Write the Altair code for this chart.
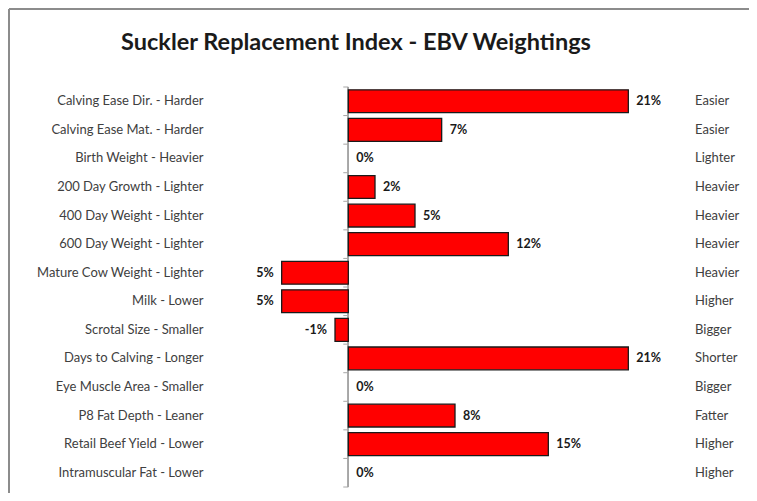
import altair as alt
import pandas as pd

categories = [
    "Calving Ease Dir. - Harder", "Calving Ease Mat. - Harder", "Birth Weight - Heavier",
    "200 Day Growth - Lighter", "400 Day Weight - Lighter", "600 Day Weight - Lighter",
    "Mature Cow Weight - Lighter", "Milk - Lower", "Scrotal Size - Smaller",
    "Days to Calving - Longer", "Eye Muscle Area - Smaller", "P8 Fat Depth - Leaner",
    "Retail Beef Yield - Lower", "Intramuscular Fat - Lower",
]
values = [21, 7, 0, 2, 5, 12, -5, -5, -1, 21, 0, 8, 15, 0]
value_labels = ["21%", "7%", "0%", "2%", "5%", "12%", "5%", "5%", "-1%", "21%", "0%", "8%", "15%", "0%"]
right_labels = ["Easier", "Easier", "Lighter", "Heavier", "Heavier", "Heavier", "Heavier",
                "Higher", "Bigger", "Shorter", "Bigger", "Fatter", "Higher", "Higher"]

W, H = 480, 400
XMIN, XMAX = -10, 26
N = len(categories)
step = H / N
FONT = "Lato"

df = pd.DataFrame({"cat": categories, "value": values, "vlabel": value_labels, "rlabel": right_labels})
df["zero"] = 0.0
df["tickend"] = -0.38
df["xmax"] = float(XMAX)

xs = alt.Scale(domain=[XMIN, XMAX], nice=False, zero=False)
ys = alt.Scale(domain=categories, paddingInner=0.2, paddingOuter=0.1)
Y = alt.Y("cat:N", scale=ys, title=None,
          axis=alt.Axis(domain=False, ticks=False, labelPadding=12,
                        labelFont=FONT, labelFontSize=13, labelColor="#404040",
                        labelLimit=300))

base = alt.Chart(df)

bars = base.transform_filter(alt.datum.value != 0).mark_bar(
    color="#ff0000", stroke="#1a1a1a", strokeWidth=1.3).encode(
    x=alt.X("value:Q", scale=xs, axis=None), y=Y)

zero_line = base.mark_rule(color="#a6a6a6", strokeWidth=1).encode(x=alt.X("zero:Q", scale=xs, axis=None))

ticks_top = base.mark_rule(color="#a6a6a6", strokeWidth=1, yOffset=-step / 2).encode(
    x=alt.X("zero:Q", scale=xs, axis=None), x2="tickend:Q", y=Y)
ticks_bottom = base.transform_filter(alt.datum.cat == categories[-1]).mark_rule(
    color="#a6a6a6", strokeWidth=1, yOffset=step / 2).encode(
    x=alt.X("zero:Q", scale=xs, axis=None), x2="tickend:Q", y=Y)

pos_text = base.transform_filter(alt.datum.value >= 0).mark_text(
    align="left", baseline="middle", dx=8, font=FONT, fontSize=12.5, fontWeight="bold", color="#1a1a1a"
).encode(x=alt.X("value:Q", scale=xs, axis=None), y=Y, text="vlabel:N")

neg_text = base.transform_filter(alt.datum.value < 0).mark_text(
    align="right", baseline="middle", dx=-8, font=FONT, fontSize=12.5, fontWeight="bold", color="#1a1a1a"
).encode(x=alt.X("value:Q", scale=xs, axis=None), y=Y, text="vlabel:N")

right_text = base.mark_text(
    align="left", baseline="middle", font=FONT, fontSize=13, color="#404040"
).encode(x=alt.X("xmax:Q", scale=xs, axis=None), y=Y, text="rlabel:N")

frame_top = base.mark_rule(color="#8c8c8c", strokeWidth=2).encode(
    x=alt.value(-206), x2=alt.value(W + 60), y=alt.value(-78))
frame_left = base.mark_rule(color="#8c8c8c", strokeWidth=2).encode(
    x=alt.value(-206), y=alt.value(-78), y2=alt.value(H + 20))

chart = alt.layer(
    frame_top, frame_left, zero_line, ticks_top, ticks_bottom, bars, pos_text, neg_text, right_text
).properties(
    width=W, height=H,
    title=alt.TitleParams("Suckler Replacement Index - EBV Weightings", font=FONT, fontSize=23.5,
                          fontWeight="bold", color="#1a1a1a", anchor="middle", dx=-99, offset=0, dy=46),
    autosize=alt.AutoSizeParams(type="none"),
    padding={"left": 207, "top": 79, "right": 54, "bottom": 6},
).configure_view(stroke=None)

chart.save("out.html", embed_options={"renderer": "svg", "actions": False})
